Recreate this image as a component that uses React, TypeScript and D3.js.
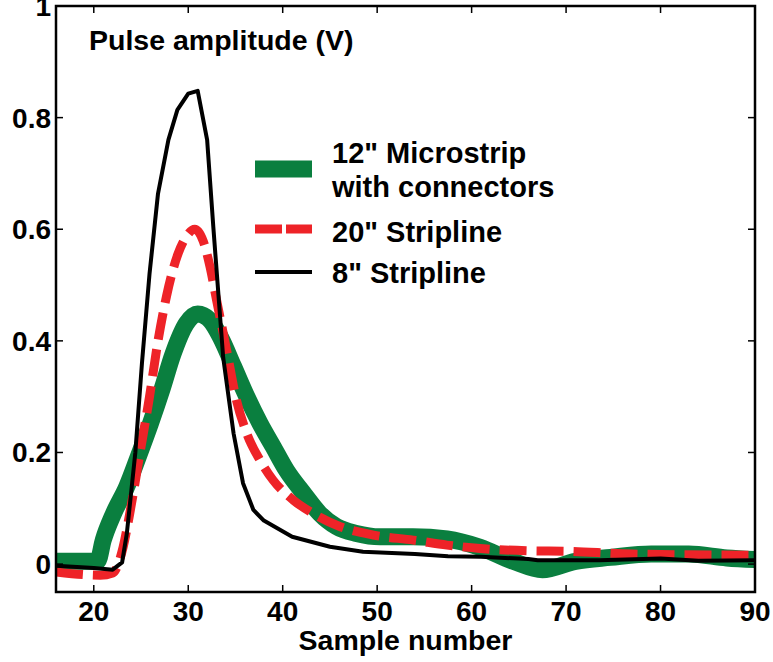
import React from "react";
import * as d3 from "d3";

const xTicks = [20, 30, 40, 50, 60, 70, 80, 90];
const yTicks = [0, 0.2, 0.4, 0.6, 0.8, 1];
const yTickLabels = ["0", "0.2", "0.4", "0.6", "0.8", "1"];

const seriesNames = ["12\" Microstrip", "20\" Stripline", "8\" Stripline"];

const microX = [16, 20.4, 21, 22.1, 23.5, 24.7, 26, 27.2, 28.4, 29.8, 31, 32.3, 33.4, 34.8, 36.2, 37.6, 39, 40.4, 42.2, 43.9, 45.7, 47.8, 50.3, 53.8, 57.4, 60.9, 64.4, 67.5, 71, 74.7, 79, 83, 87, 90];
const microY = [0.005, 0.005, 0.043, 0.091, 0.139, 0.192, 0.252, 0.312, 0.377, 0.431, 0.448, 0.437, 0.407, 0.354, 0.3, 0.252, 0.21, 0.168, 0.127, 0.091, 0.067, 0.055, 0.049, 0.049, 0.045, 0.03, 0.005, -0.01, 0.005, 0.012, 0.018, 0.018, 0.011, 0.008];

const strip20X = [16, 20.7, 22, 23.1, 23.8, 24.9, 25.9, 26.8, 27.7, 28.9, 29.8, 30.7, 31.6, 32.3, 33, 34.1, 35.1, 36.2, 37.6, 39, 41.1, 43.2, 46.1, 49.6, 53.8, 57.4, 60.9, 65.8, 70, 77, 90];
const strip20Y = [-0.014, -0.02, -0.016, 0.03, 0.09, 0.2, 0.3, 0.4, 0.48, 0.555, 0.587, 0.6, 0.578, 0.533, 0.473, 0.38, 0.294, 0.234, 0.186, 0.15, 0.115, 0.091, 0.067, 0.052, 0.043, 0.034, 0.028, 0.024, 0.023, 0.018, 0.016];

const strip8X = [16, 20, 22, 23, 23.5, 24.4, 25.1, 25.9, 26.8, 27.9, 28.85, 30, 31, 32, 32.65, 33.7, 34.8, 35.8, 36.9, 38, 41, 45, 48.5, 54, 57.5, 61, 66, 67, 73.5, 80, 84, 90];
const strip8Y = [-0.003, -0.007, -0.01, 0.003, 0.055, 0.2, 0.36, 0.52, 0.664, 0.76, 0.814, 0.843, 0.848, 0.76, 0.605, 0.37, 0.234, 0.145, 0.097, 0.078, 0.049, 0.031, 0.022, 0.018, 0.014, 0.013, 0.009, 0.007, 0.007, 0.01, 0.006, 0.007];

const FONT = "'Liberation Sans', Arial, Helvetica, sans-serif";

export default function App() {
  const W = 773, H = 662;
  const left = 56, right = 755, top = 6, bottom = 592;
  const x = d3.scaleLinear().domain([16, 90]).range([left, right]);
  const y = d3.scaleLinear().domain([-0.05, 1]).range([bottom, top]);

  const mk = (xs: number[], ys: number[], curve: d3.CurveFactory) =>
    d3.line<number>().x((_, i) => x(xs[i])).y((_, i) => y(ys[i])).curve(curve)(ys.map((_, i) => i)) || "";

  const greenPath = mk(microX, microY, d3.curveMonotoneX);
  const redPath = mk(strip20X, strip20Y, d3.curveMonotoneX);
  const blackPath = mk(strip8X, strip8Y, d3.curveLinear);

  const green = "#0a7f3f";
  const red = "#ee2328";
  const tickLen = 7;

  return (
    <svg width={W} height={H} style={{ position: "absolute", left: 0, top: 0, background: "#fff" }} fontFamily={FONT} fontWeight="bold">
      <defs>
        <clipPath id="plot">
          <rect x={left} y={top} width={right - left} height={bottom - top} />
        </clipPath>
      </defs>
      <g clipPath="url(#plot)" fill="none" strokeLinejoin="round">
        <path d={greenPath} stroke={green} strokeWidth={17} />
        <path d={redPath} stroke={red} strokeWidth={9} strokeDasharray="27 10" />
        <path d={blackPath} stroke="#000" strokeWidth={4} />
      </g>
      <g stroke="#000" strokeWidth={1.5}>
        {xTicks.map((t) => (
          <g key={"xt" + t}>
            <line x1={x(t)} x2={x(t)} y1={bottom} y2={bottom - tickLen} />
            <line x1={x(t)} x2={x(t)} y1={top} y2={top + tickLen} />
          </g>
        ))}
        {yTicks.map((t) => (
          <g key={"yt" + t}>
            <line x1={left} x2={left + tickLen} y1={y(t)} y2={y(t)} />
            <line x1={right} x2={right - tickLen} y1={y(t)} y2={y(t)} />
          </g>
        ))}
      </g>
      <rect x={left} y={top} width={right - left} height={bottom - top} fill="none" stroke="#000" strokeWidth={2.5} />
      <g fontSize={28} fill="#000">
        {xTicks.map((t) => (
          <text key={"xl" + t} x={x(t)} y={bottom + 29} textAnchor="middle">{t}</text>
        ))}
        {yTicks.map((t, i) => (
          <text key={"yl" + t} x={left - 5} y={y(t) + 10} textAnchor="end">{yTickLabels[i]}</text>
        ))}
      </g>
      <text x={(left + right) / 2} y={650} textAnchor="middle" fontSize={28.5}>Sample number</text>
      <text x={89} y={50} fontSize={28.5}>Pulse amplitude (V)</text>
      <g>
        <line x1={255} x2={312} y1={169} y2={169} stroke={green} strokeWidth={17} />
        <line x1={255} x2={312} y1={229} y2={229} stroke={red} strokeWidth={9} strokeDasharray="27 4 26" />
        <line x1={255} x2={312} y1={272} y2={272} stroke="#000" strokeWidth={4} />
        <g fontSize={29}>
          <text x={332} y={163}>{seriesNames[0]}</text>
          <text x={332} y={197}>with connectors</text>
          <text x={332} y={241.5}>{seriesNames[1]}</text>
          <text x={332} y={283}>{seriesNames[2]}</text>
        </g>
      </g>
    </svg>
  );
}
